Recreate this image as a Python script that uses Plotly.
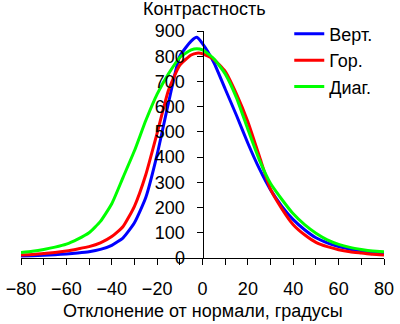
import plotly.graph_objects as go

angles = [-80, -75, -70, -65, -60, -55, -50, -45, -40, -35, -30, -25, -20, -15, -10, -5, -2.5, 0,
          5, 10, 15, 20, 25, 30, 35, 40, 45, 50, 55, 60, 65, 70, 75, 80]

vert = [8, 9, 11, 13, 16, 20, 25, 34, 50, 80, 140, 240, 410, 615, 800, 860, 875, 850,
        775, 670, 565, 455, 355, 270, 205, 152, 112, 80, 60, 45, 35, 27, 22, 19]
hor = [12, 14, 18, 22, 28, 36, 45, 60, 85, 125, 205, 330, 495, 665, 765, 805, 812, 810,
       787, 740, 650, 540, 405, 272, 195, 132, 92, 62, 45, 33, 25, 20, 15, 12]
diag = [22, 27, 34, 43, 55, 75, 100, 145, 215, 320, 425, 545, 650, 730, 795, 825, 830, 825,
        790, 730, 635, 510, 390, 295, 232, 175, 132, 98, 72, 54, 42, 34, 28, 25]

series_names = ["Верт.", "Гор.", "Диаг."]
series_colors = ["#0000ff", "#ff0000", "#00ff00"]
x_ticks = [-80, -60, -40, -20, 0, 20, 40, 60, 80]
y_ticks = [0, 100, 200, 300, 400, 500, 600, 700, 800, 900]

FONT = "Liberation Sans, Arial, sans-serif"

fig = go.Figure()
for name, ys, col in zip(series_names, [vert, hor, diag], series_colors):
    fig.add_trace(go.Scatter(x=angles, y=ys, name=name, mode="lines",
                             line=dict(color=col, width=3, shape="spline", smoothing=0.5)))

fig.update_layout(
    width=400, height=324,
    margin=dict(l=10, r=6, t=31, b=66),
    paper_bgcolor="white", plot_bgcolor="white",
    font=dict(family=FONT, size=18, color="black"),
    legend=dict(x=0.739, y=1.068, xanchor="left", yanchor="top",
                bgcolor="rgba(0,0,0,0)", font=dict(size=18), itemwidth=30),
    xaxis=dict(range=[-80, 80], tickvals=x_ticks, ticks="outside", ticklen=6,
               tickcolor="black", showline=True, linecolor="black", linewidth=1,
               showgrid=False, zeroline=False, ticklabelstandoff=8,
               ticklabeloverflow="allow",
               minor=dict(dtick=10, ticks="outside", ticklen=6, tickcolor="black", showgrid=False)),
    yaxis=dict(range=[0, 900], tickvals=y_ticks, ticks="outside", ticklen=6,
               tickcolor="black", showline=True, linecolor="black", linewidth=1,
               showgrid=False, zeroline=False, anchor="free", position=0.5,
               ticklabelstandoff=8),
    annotations=[
        dict(text="Контрастность", xref="paper", yref="paper", x=0.505, y=1.0,
             yshift=22, showarrow=False, xanchor="center", yanchor="middle",
             font=dict(size=18)),
        dict(text="Отклонение от нормали, градусы", xref="paper", yref="paper",
             x=0.5, y=0, yshift=-53, showarrow=False, xanchor="center",
             yanchor="middle", font=dict(size=18)),
    ],
)

fig.write_html("out.html")
